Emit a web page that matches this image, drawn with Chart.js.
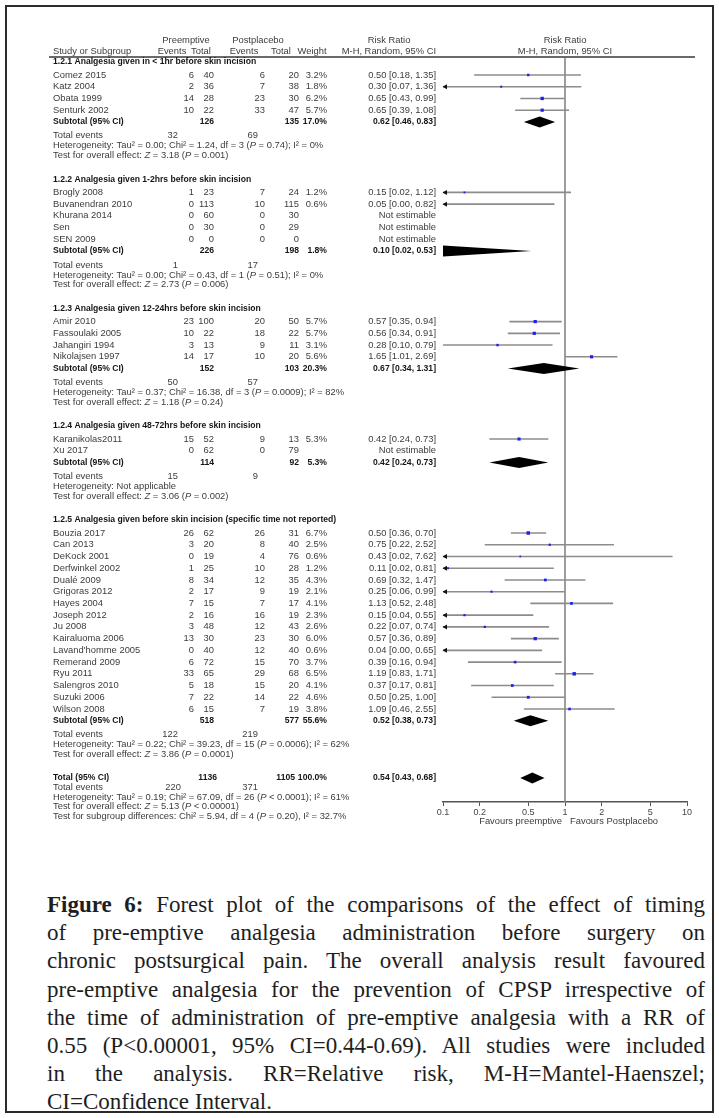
<!DOCTYPE html>
<html>
<head>
<meta charset="utf-8">
<script src="https://cdn.jsdelivr.net/npm/chart.js@4.4.1/dist/chart.umd.min.js"></script>
<style>
  html, body { margin: 0; padding: 0; background: #fff; }
  #page { position: relative; width: 719px; height: 1118px; overflow: hidden; background: #fff; }
  #frame { position: absolute; left: 5px; top: 5px; width: 709px; height: 1108px; border: 2px solid #2b2b2b; box-sizing: border-box; }
  #forest { position: absolute; left: 0; top: 0; filter: blur(0.3px); }
  #caption { position: absolute; left: 47px; top: 891px; width: 658px; font-family: "Liberation Serif", "Times New Roman", serif; font-size: 23px; color: #1e1e1e; }
  #caption div { height: 28.2px; line-height: 28.2px; text-align: justify; text-align-last: justify; }
  #caption div.last { text-align-last: left; }
  #caption b { font-weight: bold; }
</style>
</head>
<body>
<div id="page">
  <div id="frame"></div>
  <canvas id="forest" width="719" height="840"></canvas>
  <div id="caption">
    <div><b>Figure 6:</b> Forest plot of the comparisons of the effect of timing</div>
    <div>of pre-emptive analgesia administration before surgery on</div>
    <div>chronic postsurgical pain. The overall analysis result favoured</div>
    <div>pre-emptive analgesia for the prevention of CPSP irrespective of</div>
    <div>the time of administration of pre-emptive analgesia with a RR of</div>
    <div>0.55 (P&lt;0.00001, 95% CI=0.44-0.69). All studies were included</div>
    <div>in the analysis. RR=Relative risk, M-H=Mantel-Haenszel;</div>
    <div class="last">CI=Confidence Interval.</div>
  </div>
</div>
<script>
// ---- Subgroups ----
const GROUP_TITLES = [
  '1.2.1 Analgesia given in < 1hr before skin incision',
  '1.2.2 Analgesia given 1-2hrs before skin incision',
  '1.2.3 Analgesia given 12-24hrs before skin incision',
  '1.2.4 Analgesia given 48-72hrs before skin incision',
  '1.2.5 Analgesia given before skin incision (specific time not reported)'
];

// ---- Studies ----
const STUDY_GROUP = [0,0,0,0, 1,1,1,1,1, 2,2,2,2, 3,3, 4,4,4,4,4,4,4,4,4,4,4,4,4,4,4,4];
const STUDY_NAMES = [
  'Comez 2015', 'Katz 2004', 'Obata 1999', 'Senturk 2002',
  'Brogly 2008', 'Buvanendran 2010', 'Khurana 2014', 'Sen', 'SEN 2009',
  'Amir 2010', 'Fassoulaki 2005', 'Jahangiri 1994', 'Nikolajsen 1997',
  'Karanikolas2011', 'Xu 2017',
  'Bouzia 2017', 'Can 2013', 'DeKock 2001', 'Derfwinkel 2002', 'Dualé 2009', 'Grigoras 2012',
  'Hayes 2004', 'Joseph 2012', 'Ju 2008', 'Kairaluoma 2006', "Lavand'homme 2005",
  'Remerand 2009', 'Ryu 2011', 'Salengros 2010', 'Suzuki 2006', 'Wilson 2008'
];
const PRE_EVENTS  = [6,2,14,10, 1,0,0,0,0, 23,10,3,14, 15,0, 26,3,0,1,8,2,7,2,3,13,0,6,33,5,7,6];
const PRE_TOTAL   = [40,36,28,22, 23,113,60,30,0, 100,22,13,17, 52,62, 62,20,19,25,34,17,15,16,48,30,40,72,65,18,22,15];
const POST_EVENTS = [6,7,23,33, 7,10,0,0,0, 20,18,9,10, 9,0, 26,8,4,10,12,9,7,16,12,23,12,15,29,15,14,7];
const POST_TOTAL  = [20,38,30,47, 24,115,30,29,0, 50,22,11,20, 13,79, 31,40,76,28,35,19,17,19,43,30,40,70,68,20,22,19];
const WEIGHTS     = [3.2,1.8,6.2,5.7, 1.2,0.6,null,null,null, 5.7,5.7,3.1,5.6, 5.3,null,
                     6.7,2.5,0.6,1.2,4.3,2.1,4.1,2.3,2.6,6.0,0.6,3.7,6.5,4.1,4.6,3.8];
const RISK_RATIO  = [0.50,0.30,0.65,0.65, 0.15,0.05,null,null,null, 0.57,0.56,0.28,1.65, 0.42,null,
                     0.50,0.75,0.43,0.11,0.69,0.25,1.13,0.15,0.22,0.57,0.04,0.39,1.19,0.37,0.50,1.09];
const CI_LOW      = [0.18,0.07,0.43,0.39, 0.02,0.00,null,null,null, 0.35,0.34,0.10,1.01, 0.24,null,
                     0.36,0.22,0.02,0.02,0.32,0.06,0.52,0.04,0.07,0.36,0.00,0.16,0.83,0.17,0.25,0.46];
const CI_HIGH     = [1.35,1.36,0.99,1.08, 1.12,0.82,null,null,null, 0.94,0.91,0.79,2.69, 0.73,null,
                     0.70,2.52,7.62,0.81,1.47,0.99,2.48,0.55,0.74,0.89,0.65,0.94,1.71,0.81,1.00,2.55];

// ---- Subgroup summaries ----
const SUB_PRE_TOTAL   = [126, 226, 152, 114, 518];
const SUB_POST_TOTAL  = [135, 198, 103, 92, 577];
const SUB_WEIGHT      = [17.0, 1.8, 20.3, 5.3, 55.6];
const SUB_RR          = [0.62, 0.10, 0.67, 0.42, 0.52];
const SUB_LOW         = [0.46, 0.02, 0.34, 0.24, 0.38];
const SUB_HIGH        = [0.83, 0.53, 1.31, 0.73, 0.73];
const SUB_PRE_EVENTS  = [32, 1, 50, 15, 122];
const SUB_POST_EVENTS = [69, 17, 57, 9, 219];
const SUB_HETEROGENEITY = [
  'Heterogeneity: Tau² = 0.00; Chi² = 1.24, df = 3 (_P_ = 0.74); I² = 0%',
  'Heterogeneity: Tau² = 0.00; Chi² = 0.43, df = 1 (_P_ = 0.51); I² = 0%',
  'Heterogeneity: Tau² = 0.37; Chi² = 16.38, df = 3 (_P_ = 0.0009); I² = 82%',
  'Heterogeneity: Not applicable',
  'Heterogeneity: Tau² = 0.22; Chi² = 39.23, df = 15 (_P_ = 0.0006); I² = 62%'
];
const SUB_OVERALL = [
  'Test for overall effect: _Z_ = 3.18 (_P_ = 0.001)',
  'Test for overall effect: _Z_ = 2.73 (_P_ = 0.006)',
  'Test for overall effect: _Z_ = 1.18 (_P_ = 0.24)',
  'Test for overall effect: _Z_ = 3.06 (_P_ = 0.002)',
  'Test for overall effect: _Z_ = 3.86 (_P_ = 0.0001)'
];

// ---- Pooled total ----
const TOTAL_PRE_TOTAL = 1136;
const TOTAL_POST_TOTAL = 1105;
const TOTAL_WEIGHT = 100.0;
const TOTAL_RR = 0.54;
const TOTAL_LOW = 0.43;
const TOTAL_HIGH = 0.68;
const TOTAL_PRE_EVENTS = 220;
const TOTAL_POST_EVENTS = 371;
const TOTAL_NOTES = [
  'Heterogeneity: Tau² = 0.19; Chi² = 67.09, df = 26 (_P_ < 0.0001); I² = 61%',
  'Test for overall effect: _Z_ = 5.13 (_P_ < 0.00001)',
  'Test for subgroup differences: Chi² = 5.94, df = 4 (_P_ = 0.20), I² = 32.7%'
];

// ---- Risk ratio axis ----
const TICK_VALUES = [0.1, 0.2, 0.5, 1, 2, 5, 10];
const TICK_LABELS = ['0.1', '0.2', '0.5', '1', '2', '5', '10'];
const AXIS_LEFT_LABEL = 'Favours preemptive';
const AXIS_RIGHT_LABEL = 'Favours Postplacebo';

// ---- Styling ----
const FONT = '"Liberation Sans", Arial, sans-serif';
const FS = 9.4;
const FS_BOLD = 8.6;
const TEXT_COLOR = '#3c3c3c';
const BOLD_COLOR = '#151515';
const CI_COLOR = '#8c8c8c';
const POINT_COLOR = '#2020ee';
const COL = { name: 53, preEv: 194, preTot: 214, postEv: 265, postTot: 299, weight: 327, rr: 436, evPre: 178, evPost: 258 };

// ---- Vertical layout of the table lines (distance below the header rule) ----
const rows = [];
(function buildRows() {
  let y = 4.7;
  GROUP_TITLES.forEach((title, g) => {
    rows.push({ type: 'group', g, y }); y += 13.3;
    STUDY_NAMES.forEach((n, i) => {
      if (STUDY_GROUP[i] === g) { rows.push({ type: 'study', i, y }); y += 11.75; }
    });
    rows.push({ type: 'subtotal', g, y }); y += 14;
    rows.push({ type: 'events', g, y }); y += 10;
    rows.push({ type: 'het', g, y }); y += 9.8;
    rows.push({ type: 'test', g, y }); y += 23.5;
  });
  rows.push({ type: 'total', y }); y += 9.7;
  rows.push({ type: 'totalEvents', y }); y += 9.5;
  TOTAL_NOTES.forEach((t, k) => { rows.push({ type: 'note', k, y }); y += 9.5; });
})();
const HEAD1_Y = -17;
const HEAD2_Y = -6;
const Y_MAX = 746;

const fmt2 = v => v.toFixed(2);
const rrText = (r, l, h) => r == null ? 'Not estimable' : fmt2(r) + ' [' + fmt2(l) + ', ' + fmt2(h) + ']';
const pct = w => w == null ? '' : w.toFixed(1) + '%';

// text with _italic_ segments
function drawText(ctx, text, x, y, opt = {}) {
  const parts = String(text).split('_');
  const weight = opt.bold ? 'bold ' : '';
  const size = opt.bold ? FS_BOLD : FS;
  const fonts = parts.map((p, k) => (k % 2 ? 'italic ' : '') + weight + size + 'px ' + FONT);
  let w = 0;
  const ws = parts.map((p, k) => { ctx.font = fonts[k]; const m = ctx.measureText(p).width; w += m; return m; });
  let cx = opt.align === 'right' ? x - w : opt.align === 'center' ? x - w / 2 : x;
  ctx.textAlign = 'left';
  ctx.textBaseline = 'middle';
  ctx.fillStyle = opt.color || (opt.bold ? BOLD_COLOR : TEXT_COLOR);
  parts.forEach((p, k) => { ctx.font = fonts[k]; ctx.fillText(p, cx, y); cx += ws[k]; });
}

const forestMarks = {
  id: 'forestMarks',
  beforeDatasetsDraw(chart) {
    const ctx = chart.ctx, xs = chart.scales.x, ys = chart.scales.y, ca = chart.chartArea;
    const px = v => v > 0 ? xs.getPixelForValue(v) : -Infinity;
    ctx.save();
    // line of no effect
    ctx.strokeStyle = '#858585';
    ctx.lineWidth = 1.6;
    ctx.beginPath();
    ctx.moveTo(px(1), ca.top);
    ctx.lineTo(px(1), ca.bottom);
    ctx.stroke();
    // confidence intervals
    rows.filter(r => r.type === 'study' && RISK_RATIO[r.i] != null).forEach(r => {
      const yy = ys.getPixelForValue(r.y);
      const lp = px(CI_LOW[r.i]), hp = px(CI_HIGH[r.i]);
      const l = Math.max(lp, ca.left), h = Math.min(hp, ca.right);
      ctx.strokeStyle = CI_COLOR;
      ctx.lineWidth = 1.6;
      ctx.beginPath(); ctx.moveTo(l, yy); ctx.lineTo(h, yy); ctx.stroke();
      ctx.fillStyle = '#111';
      if (lp < ca.left) {
        ctx.beginPath(); ctx.moveTo(ca.left - 0.5, yy); ctx.lineTo(ca.left + 4, yy - 2.5); ctx.lineTo(ca.left + 4, yy + 2.5); ctx.closePath(); ctx.fill();
      }
      if (hp > ca.right) {
        ctx.beginPath(); ctx.moveTo(ca.right + 0.5, yy); ctx.lineTo(ca.right - 4, yy - 2.5); ctx.lineTo(ca.right - 4, yy + 2.5); ctx.closePath(); ctx.fill();
      }
    });
    // pooled diamonds
    ctx.beginPath();
    ctx.rect(ca.left, 0, ca.right - ca.left, chart.height);
    ctx.clip();
    ctx.fillStyle = '#000';
    const diamond = (rr, lo, hi, yv) => {
      const yy = ys.getPixelForValue(yv), hh = 5.5;
      ctx.beginPath();
      ctx.moveTo(px(lo), yy);
      ctx.lineTo(px(rr), yy - hh);
      ctx.lineTo(px(hi), yy);
      ctx.lineTo(px(rr), yy + hh);
      ctx.closePath();
      ctx.fill();
    };
    rows.filter(r => r.type === 'subtotal').forEach(r => diamond(SUB_RR[r.g], SUB_LOW[r.g], SUB_HIGH[r.g], r.y));
    rows.filter(r => r.type === 'total').forEach(r => diamond(TOTAL_RR, TOTAL_LOW, TOTAL_HIGH, r.y));
    ctx.restore();
  }
};

const forestTable = {
  id: 'forestTable',
  afterDraw(chart) {
    const ctx = chart.ctx, xs = chart.scales.x, ys = chart.scales.y, ca = chart.chartArea;
    const Y = v => ys.getPixelForValue(v);
    const x1 = xs.getPixelForValue(1);
    ctx.save();
    // column headings
    const h1 = Y(HEAD1_Y), h2 = Y(HEAD2_Y);
    drawText(ctx, 'Preemptive', 186, h1, { align: 'center' });
    drawText(ctx, 'Postplacebo', 258, h1, { align: 'center' });
    drawText(ctx, 'Risk Ratio', 389, h1, { align: 'center' });
    drawText(ctx, 'Risk Ratio', x1, h1, { align: 'center' });
    drawText(ctx, 'Study or Subgroup', COL.name, h2);
    drawText(ctx, 'Events', 172, h2, { align: 'center' });
    drawText(ctx, 'Total', 201, h2, { align: 'center' });
    drawText(ctx, 'Events', 244, h2, { align: 'center' });
    drawText(ctx, 'Total', 281, h2, { align: 'center' });
    drawText(ctx, 'Weight', 312, h2, { align: 'center' });
    drawText(ctx, 'M-H, Random, 95% CI', COL.rr, h2, { align: 'right' });
    drawText(ctx, 'M-H, Random, 95% CI', x1, h2, { align: 'center' });
    // header rule
    ctx.strokeStyle = '#6a6a6a';
    ctx.lineWidth = 1.8;
    ctx.beginPath(); ctx.moveTo(49, ca.top); ctx.lineTo(695, ca.top); ctx.stroke();

    rows.forEach(r => {
      const y = Y(r.y);
      switch (r.type) {
        case 'group':
          drawText(ctx, GROUP_TITLES[r.g], COL.name, y, { bold: true });
          break;
        case 'study': {
          const i = r.i;
          drawText(ctx, STUDY_NAMES[i], COL.name, y);
          drawText(ctx, PRE_EVENTS[i], COL.preEv, y, { align: 'right' });
          drawText(ctx, PRE_TOTAL[i], COL.preTot, y, { align: 'right' });
          drawText(ctx, POST_EVENTS[i], COL.postEv, y, { align: 'right' });
          drawText(ctx, POST_TOTAL[i], COL.postTot, y, { align: 'right' });
          drawText(ctx, pct(WEIGHTS[i]), COL.weight, y, { align: 'right' });
          drawText(ctx, rrText(RISK_RATIO[i], CI_LOW[i], CI_HIGH[i]), COL.rr, y, { align: 'right' });
          break;
        }
        case 'subtotal': {
          const g = r.g, b = { bold: true, align: 'right' };
          drawText(ctx, 'Subtotal (95% CI)', COL.name, y, { bold: true });
          drawText(ctx, SUB_PRE_TOTAL[g], COL.preTot, y, b);
          drawText(ctx, SUB_POST_TOTAL[g], COL.postTot, y, b);
          drawText(ctx, pct(SUB_WEIGHT[g]), COL.weight, y, b);
          drawText(ctx, rrText(SUB_RR[g], SUB_LOW[g], SUB_HIGH[g]), COL.rr, y, b);
          break;
        }
        case 'events':
          drawText(ctx, 'Total events', COL.name, y);
          drawText(ctx, SUB_PRE_EVENTS[r.g], COL.evPre, y, { align: 'right' });
          drawText(ctx, SUB_POST_EVENTS[r.g], COL.evPost, y, { align: 'right' });
          break;
        case 'het':
          drawText(ctx, SUB_HETEROGENEITY[r.g], COL.name, y);
          break;
        case 'test':
          drawText(ctx, SUB_OVERALL[r.g], COL.name, y);
          break;
        case 'total': {
          const b = { bold: true, align: 'right' };
          drawText(ctx, 'Total (95% CI)', COL.name, y, { bold: true });
          drawText(ctx, TOTAL_PRE_TOTAL, COL.preTot + 3, y, b);
          drawText(ctx, TOTAL_POST_TOTAL, COL.postTot - 4, y, b);
          drawText(ctx, pct(TOTAL_WEIGHT), COL.weight, y, b);
          drawText(ctx, rrText(TOTAL_RR, TOTAL_LOW, TOTAL_HIGH), COL.rr, y, b);
          break;
        }
        case 'totalEvents':
          drawText(ctx, 'Total events', COL.name, y);
          drawText(ctx, TOTAL_PRE_EVENTS, COL.evPre + 3, y, { align: 'right' });
          drawText(ctx, TOTAL_POST_EVENTS, COL.evPost, y, { align: 'right' });
          break;
        case 'note':
          drawText(ctx, TOTAL_NOTES[r.k], COL.name, y);
          break;
      }
    });
    // axis captions
    const fy = ca.bottom + 19;
    drawText(ctx, AXIS_LEFT_LABEL, x1 - 3, fy, { align: 'right' });
    drawText(ctx, AXIS_RIGHT_LABEL, x1 + 5, fy);
    ctx.restore();
  }
};

const studyRows = rows.filter(r => r.type === 'study' && RISK_RATIO[r.i] != null);

new Chart(document.getElementById('forest'), {
  type: 'scatter',
  data: {
    datasets: [{
      label: 'Risk ratio',
      data: studyRows.map(r => ({ x: RISK_RATIO[r.i], y: r.y })),
      pointStyle: 'rect',
      pointRadius: studyRows.map(r => (1.5 + WEIGHTS[r.i] * 0.3) / Math.SQRT2),
      pointBackgroundColor: POINT_COLOR,
      pointBorderWidth: 0,
      pointHoverRadius: 0
    }]
  },
  options: {
    responsive: false,
    devicePixelRatio: 1,
    animation: false,
    events: [],
    layout: { padding: { left: 443, right: 32, top: 57, bottom: 21.2 } },
    plugins: { legend: { display: false }, tooltip: { enabled: false } },
    scales: {
      x: {
        type: 'logarithmic',
        min: 0.1,
        max: 10,
        position: 'bottom',
        afterBuildTicks: s => { s.ticks = TICK_VALUES.map(v => ({ value: v })); },
        ticks: {
          autoSkip: false,
          maxRotation: 0,
          padding: 1,
          color: '#444',
          font: { family: FONT, size: 9 },
          callback: (v, i) => TICK_LABELS[i]
        },
        grid: { display: true, drawOnChartArea: false, drawTicks: true, tickLength: 4, color: '#555', lineWidth: 1 },
        border: { display: true, color: '#555', width: 1.4 }
      },
      y: { type: 'linear', min: 0, max: Y_MAX, reverse: true, display: false }
    }
  },
  plugins: [forestMarks, forestTable]
});
</script>
</body>
</html>
